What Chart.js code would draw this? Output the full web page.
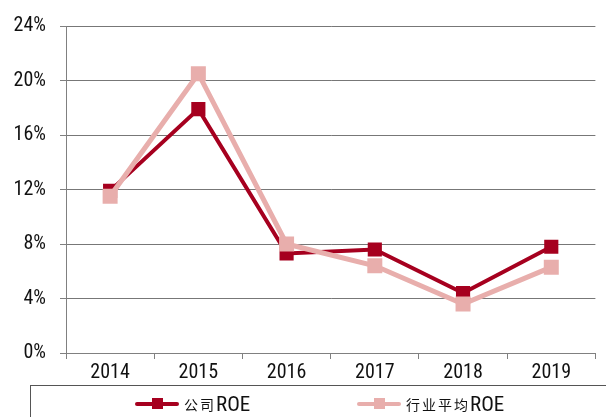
<!DOCTYPE html>
<html>
<head>
<meta charset="utf-8">
<script src="https://cdn.jsdelivr.net/npm/chart.js@4"></script>
<style>
html,body{margin:0;padding:0;background:#fff;}
#wrap{position:relative;width:606px;height:417px;overflow:hidden;}
canvas{position:absolute;left:0;top:0;}
#legend{position:absolute;left:30px;top:385px;width:600px;height:60px;border:1px solid #555;box-sizing:border-box;}
.item{position:absolute;top:7px;height:22px;display:flex;align-items:center;}
.mk{position:relative;width:44px;height:22px;margin-right:5px;}
.mk .ln{position:absolute;left:0;right:0;top:9px;height:4px;border-radius:2px;}
.mk .sq{position:absolute;left:17px;top:5px;width:11px;height:11px;}
.cjk{font-family:"Noto Sans CJK SC",sans-serif;font-size:14px;letter-spacing:2px;color:#111;}
.lat{font-family:"Roboto Condensed","Liberation Sans",sans-serif;font-size:21px;color:#111;}
</style>
</head>
<body>
<div id="wrap">
<canvas id="c" width="606" height="417"></canvas>
<div id="legend"></div>
</div>
<script>
const categories = ["2014","2015","2016","2017","2018","2019"];
const companyROE = [11.9, 17.9, 7.3, 7.6, 4.4, 7.8];
const industryROE = [11.5, 20.5, 8.0, 6.4, 3.6, 6.3];
const seriesNames = [["公司","ROE"],["行业平均","ROE"]];
const yTicks = [0,4,8,12,16,20,24];

const cRed = "#A6001F";
const cPink = "#E8AEAC";
const fontNarrow = '"Roboto Condensed","Liberation Sans",sans-serif';

new Chart(document.getElementById("c"), {
  type: "line",
  data: {
    labels: categories,
    datasets: [
      {label: seriesNames[0].join(""), data: companyROE, borderColor: cRed, backgroundColor: cRed,
       borderWidth: 4, pointStyle: "rect", pointRadius: 10, pointBorderWidth: 0, pointHoverRadius: 10,
       pointBackgroundColor: cRed, tension: 0, order: 1},
      {label: seriesNames[1].join(""), data: industryROE, borderColor: cPink, backgroundColor: cPink,
       borderWidth: 5, pointStyle: "rect", pointRadius: 10.6, pointBorderWidth: 0, pointHoverRadius: 10.6,
       pointBackgroundColor: cPink, tension: 0, order: 0}
    ]
  },
  options: {
    responsive: false,
    animation: false,
    layout: {padding: {left: 0, right: 6, top: 20, bottom: 0}},
    plugins: {legend: {display: false}, tooltip: {enabled: false}},
    scales: {
      x: {
        offset: true,
        grid: {display: true, drawOnChartArea: false, drawTicks: true, tickLength: 6, offset: true, color: "#808080", tickColor: "#808080"},
        border: {color: "#808080", width: 1},
        ticks: {color: "#111", font: {family: fontNarrow, size: 20}, padding: 2, maxRotation: 0},
        afterFit: s => { s.height = 64; }
      },
      y: {
        min: 0, max: 24,
        afterBuildTicks: s => { s.ticks = yTicks.map(v => ({value: v})); },
        grid: {color: "#777", borderDash: [1, 1], tickBorderDash: [], tickLength: 6, tickColor: "#808080", lineWidth: 1},
        border: {color: "#808080", width: 1},
        ticks: {color: "#111", font: {family: fontNarrow, size: 20}, padding: 14, callback: v => v + "%"},
        afterFit: s => { s.width = 66; }
      }
    }
  }
});

// HTML legend
const lg = document.getElementById("legend");
const items = [{name: seriesNames[0], color: cRed, left: 104}, {name: seriesNames[1], color: cPink, left: 326}];
items.forEach(it => {
  const d = document.createElement("div");
  d.className = "item";
  d.style.left = it.left + "px";
  d.innerHTML = '<div class="mk"><div class="ln" style="background:' + it.color + '"></div><div class="sq" style="background:' + it.color + '"></div></div>' +
    '<span class="cjk">' + it.name[0] + '</span><span class="lat">' + it.name[1] + '</span>';
  lg.appendChild(d);
});
</script>
</body>
</html>
